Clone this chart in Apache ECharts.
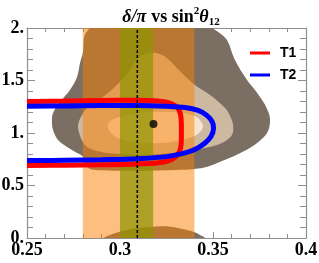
<!DOCTYPE html>
<html><head><meta charset="utf-8">
<script src="https://cdn.jsdelivr.net/npm/echarts@6/dist/echarts.min.js"></script>
<style>html,body{margin:0;padding:0;background:#fff}#c{width:319px;height:263px}</style>
</head><body><div id="c"></div>
<script>
// ---- data ----
const xTicks = [0.25, 0.3, 0.35, 0.4];
const xTickLabels = ['0.25', '0.3', '0.35', '0.4'];
const yTicks = [0, 0.5, 1, 1.5, 2];
const yTickLabels = ['0.', '0.5', '1.', '1.5', '2.'];
const seriesNames = ['T1', 'T2'];

const t1Curve = [[0.25,1.300],[0.27,1.305],[0.29,1.310],[0.31,1.312],[0.32,1.305],[0.326,1.29],[0.3305,1.25],[0.3325,1.18],[0.333,1.08],[0.333,0.95],[0.3325,0.85],[0.330,0.775],[0.326,0.735],[0.32,0.715],[0.31,0.705],[0.29,0.697],[0.27,0.693],[0.25,0.690]];
const t2Curve = [[0.25,1.255],[0.27,1.258],[0.29,1.262],[0.31,1.262],[0.325,1.255],[0.335,1.243],[0.342,1.215],[0.3465,1.17],[0.3495,1.11],[0.3503,1.045],[0.349,0.97],[0.3457,0.905],[0.341,0.85],[0.335,0.81],[0.325,0.775],[0.31,0.755],[0.29,0.745],[0.27,0.740],[0.25,0.737]];

const outerContour = [[0.2835,2.06],[0.2835,2.0],[0.2815,1.95],[0.2806,1.905],[0.2801,1.771],[0.2785,1.667],[0.2769,1.533],[0.2731,1.41],[0.2677,1.295],[0.264,1.19],[0.2634,1.124],[0.264,1.029],[0.2667,0.933],[0.2715,0.867],[0.2769,0.81],[0.2801,0.775],[0.2815,0.70],[0.284,0.658],[0.29,0.645],[0.31,0.64],[0.33,0.648],[0.34,0.657],[0.347,0.678],[0.3545,0.73],[0.3625,0.79],[0.37,0.86],[0.3755,0.93],[0.3796,1.02],[0.3806,1.143],[0.3785,1.25],[0.3769,1.30],[0.373,1.40],[0.3683,1.505],[0.3618,1.695],[0.3575,1.886],[0.353,1.96],[0.350,2.0],[0.349,2.06]];
const outerContourLower = [[0.288,-0.06],[0.291,0],[0.30,0.06],[0.309,0.092],[0.318,0.108],[0.327,0.108],[0.336,0.076],[0.3398,0.057],[0.343,0.029],[0.3457,0],[0.347,-0.06]];
const middleContour = [[0.2935,1.381],[0.2885,1.31],[0.283,1.25],[0.2795,1.17],[0.2775,1.08],[0.278,1.0],[0.2805,0.90],[0.284,0.85],[0.29,0.82],[0.30,0.80],[0.31,0.792],[0.325,0.805],[0.34,0.838],[0.3457,0.857],[0.3548,0.905],[0.3602,0.981],[0.3608,1.076],[0.359,1.17],[0.3565,1.238],[0.3484,1.362],[0.3403,1.457],[0.3333,1.571],[0.3258,1.705],[0.3215,1.752],[0.3172,1.765],[0.3134,1.752],[0.309,1.70],[0.3043,1.571],[0.299,1.47]];
const innerContour = [[0.2935,1.085],[0.297,1.135],[0.304,1.175],[0.316,1.20],[0.328,1.20],[0.337,1.18],[0.342,1.14],[0.3446,1.07],[0.3425,1.0],[0.336,0.945],[0.326,0.91],[0.316,0.903],[0.305,0.92],[0.297,0.97],[0.294,1.03]];

const wideBand = [0.28, 0.34];
const narrowBand = [0.30, 0.3178];
const dashedX = [0.3093];
const bestFit = [0.318, 1.086];
const yRange = [0, 2];

// ---- helpers ----
function labelFor(ticks, labels) {
  return function (v) {
    const i = ticks.findIndex(t => Math.abs(t - v) < 1e-9);
    return i >= 0 ? labels[i] : '';
  };
}
function polySeries(points, color, z) {
  return {
    type: 'custom', clip: true, silent: true, z: z,
    data: [points[0]],
    renderItem: function (params, api) {
      return { type: 'polygon', shape: { points: points.map(p => api.coord(p)), smooth: 0.35 }, style: { fill: color } };
    }
  };
}
function bandSeries(band, color, z) {
  return {
    type: 'custom', clip: true, silent: true, z: z,
    data: [[band[0], yRange[0]]],
    renderItem: function (params, api) {
      const a = api.coord([band[0], yRange[1]]);
      const b = api.coord([band[1], yRange[0]]);
      return { type: 'rect', shape: { x: a[0], y: a[1], width: b[0] - a[0], height: b[1] - a[1] }, style: { fill: color } };
    }
  };
}

const frame = '#8f8f8f';
function xAx(pos, showLabel) {
  return {
    type: 'value', position: pos, min: 0.25, max: 0.4, interval: 0.05,
    axisLine: { show: true, onZero: false, lineStyle: { color: frame, width: 1.2 } },
    axisTick: { show: true, inside: true, length: 6, lineStyle: { color: frame } },
    minorTick: { show: true, splitNumber: 5, length: 4, lineStyle: { color: frame } },
    splitLine: { show: false }, minorSplitLine: { show: false },
    axisLabel: { show: showLabel, formatter: labelFor(xTicks, xTickLabels), fontFamily: 'Liberation Serif', fontWeight: 'bold', fontSize: 18, color: '#000', margin: 3 }
  };
}
function yAx(pos, showLabel) {
  return {
    type: 'value', position: pos, min: 0, max: 2, interval: 0.5,
    axisLine: { show: true, onZero: false, lineStyle: { color: frame, width: 1.2 } },
    axisTick: { show: true, inside: true, length: 8, lineStyle: { color: frame } },
    minorTick: { show: true, splitNumber: 5, length: 6, lineStyle: { color: frame } },
    splitLine: { show: false }, minorSplitLine: { show: false },
    axisLabel: { show: showLabel, formatter: labelFor(yTicks, yTickLabels), fontFamily: 'Liberation Serif', fontWeight: 'bold', fontSize: 18, color: '#000', margin: 3 }
  };
}

const chart = echarts.init(document.getElementById('c'), null, { renderer: 'canvas' });
chart.setOption({
  animation: false,
  backgroundColor: '#fff',
  title: {
    text: '{i|δ/π} {b|vs sin}{sup|2}{i|θ}{sub|12}',
    left: 166, top: 1, textAlign: 'center',
    textStyle: {
      rich: {
        i: { fontFamily: 'Liberation Serif', fontStyle: 'italic', fontWeight: 'bold', fontSize: 18, color: '#000', lineHeight: 22 },
        b: { fontFamily: 'Liberation Serif', fontWeight: 'bold', fontSize: 18, color: '#000', lineHeight: 22 },
        sup: { fontFamily: 'Liberation Serif', fontWeight: 'bold', fontSize: 11, color: '#000', lineHeight: 11, verticalAlign: 'top' },
        sub: { fontFamily: 'Liberation Serif', fontWeight: 'bold', fontSize: 11, color: '#000', lineHeight: 11, verticalAlign: 'bottom' }
      }
    }
  },
  legend: {
    data: seriesNames, orient: 'vertical', left: 250, top: 45, padding: 0,
    itemWidth: 20, itemHeight: 3, itemGap: 6, icon: 'rect',
    itemStyle: { borderWidth: 0, borderColor: 'transparent' },
    lineStyle: { opacity: 0 },
    textStyle: { fontFamily: 'Liberation Sans', fontWeight: 'bold', fontSize: 14, color: '#000', lineHeight: 16, padding: [0, 0, 0, 5] }
  },
  grid: { left: 27, top: 28, width: 279, height: 210, outerBoundsMode: 'none' },
  xAxis: [xAx('bottom', true), xAx('top', false)],
  yAxis: [yAx('left', true), yAx('right', false)],
  series: [
    polySeries(outerContour, '#7b6e62', 1),
    polySeries(outerContourLower, '#7b6e62', 1),
    polySeries(middleContour, '#cdb8a1', 1),
    polySeries(innerContour, '#f7e5d2', 1),
    bandSeries(wideBand, 'rgba(250,128,0,0.5)', 2),
    bandSeries(narrowBand, 'rgba(140,150,0,0.7)', 3),
    { type: 'line', name: seriesNames[0], data: t1Curve, smooth: 0.4, symbol: 'none', showSymbol: false, z: 4,
      lineStyle: { color: '#ff0000', width: 5 }, itemStyle: { color: '#ff0000' } },
    { type: 'line', name: seriesNames[1], data: t2Curve, smooth: 0.4, symbol: 'none', showSymbol: false, z: 5,
      lineStyle: { color: '#0000ff', width: 5 }, itemStyle: { color: '#0000ff' } },
    { type: 'line', data: [[dashedX[0], yRange[0]], [dashedX[0], yRange[1]]], symbol: 'none', z: 6, silent: true,
      lineStyle: { color: '#000', width: 1.5, type: [3, 2] } },
    { type: 'scatter', data: [bestFit], symbolSize: 8, z: 7, itemStyle: { color: '#000' }, silent: true }
  ]
});
</script></body></html>
